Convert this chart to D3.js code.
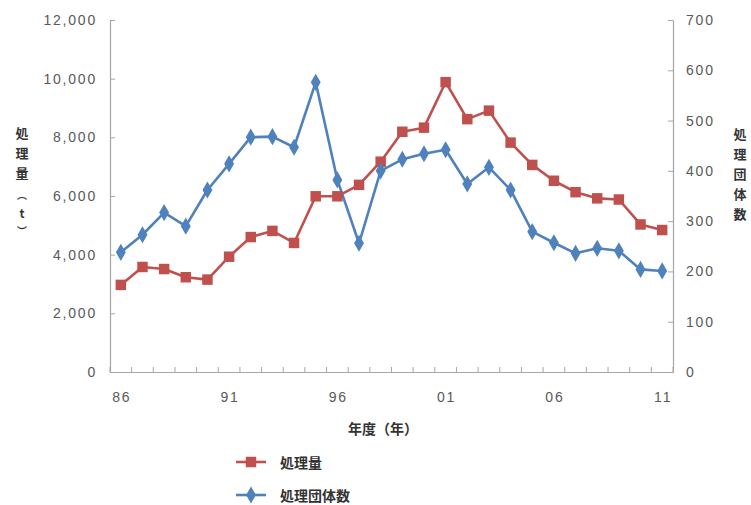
<!DOCTYPE html>
<html>
<head>
<meta charset="utf-8">
<script src="https://cdn.jsdelivr.net/npm/d3@7/dist/d3.min.js"></script>
<style>
  html, body { margin: 0; padding: 0; background: #fff; }
  svg { display: block; }
  .num { font-family: "Liberation Sans", Arial, sans-serif; font-size: 14px; letter-spacing: 1.8px; fill: #595959; }
  .jp { font-family: "Noto Sans CJK JP", sans-serif; font-weight: 700; font-size: 13px; fill: #333; }
</style>
</head>
<body>
<svg id="chart" width="751" height="505"></svg>
<script>
// Fiscal years (two-digit) on the category axis
const years = ["86","87","88","89","90","91","92","93","94","95","96","97","98","99","00","01","02","03","04","05","06","07","08","09","10","11"];
// Years whose labels appear under the axis
const labelYears = ["86","91","96","01","06","11"];
// 処理量 (t), left axis
const amount = [2970, 3580, 3510, 3230, 3150, 3930, 4600, 4810, 4400, 5990, 5990, 6380, 7170, 8190, 8330, 9880, 8620, 8910, 7820, 7060, 6520, 6130, 5920, 5880, 5030, 4840];
// 処理団体数, right axis
const groups = [238, 273, 317, 290, 362, 414, 467, 468, 447, 576, 382, 256, 400, 423, 434, 442, 374, 407, 362, 279, 257, 236, 246, 241, 204, 201];
const leftTicks = [0, 2000, 4000, 6000, 8000, 10000, 12000];
const rightTicks = [0, 100, 200, 300, 400, 500, 600, 700];

const red = "#c0504d", blue = "#4f81bd", axisColor = "#a6a6a6";
const svg = d3.select("#chart");

const plotL = 110, plotR = 673, plotT = 20, plotB = 372;

const x = d3.scaleBand().domain(years).range([plotL, plotR]);
const yL = d3.scaleLinear().domain([0, 12000]).range([plotB, plotT]);
const yR = d3.scaleLinear().domain([0, 700]).range([plotB, plotT]);
const cx = d => x(d) + x.bandwidth() / 2;

// Left axis
const gL = svg.append("g").attr("transform", `translate(${plotL},0)`)
  .call(d3.axisLeft(yL).tickValues(leftTicks).tickFormat(d3.format(",")).tickSizeInner(-5).tickSizeOuter(0).tickPadding(13));
// Right axis
const gR = svg.append("g").attr("transform", `translate(${plotR},0)`)
  .call(d3.axisRight(yR).tickValues(rightTicks).tickSizeInner(-5).tickSizeOuter(0).tickPadding(13));
// Bottom axis: tick marks on category boundaries, labels every five years
const gB = svg.append("g").attr("transform", `translate(0,${plotB})`)
  .call(d3.axisBottom(x).tickValues([]).tickSizeOuter(0));
gB.selectAll(".bound").data(years.concat(["end"])).join("line")
  .attr("class", "bound")
  .attr("x1", (d, i) => plotL + i * x.step()).attr("x2", (d, i) => plotL + i * x.step())
  .attr("y1", 0).attr("y2", -5).attr("stroke", axisColor);
gB.selectAll(".lbl").data(labelYears).join("text")
  .attr("class", "lbl num")
  .attr("x", d => cx(d) + 1).attr("y", 30)
  .attr("text-anchor", "middle")
  .text(d => d);

[gL, gR, gB].forEach(g => {
  g.selectAll("path.domain").attr("stroke", axisColor).attr("stroke-width", 1.2);
  g.selectAll(".tick line").attr("stroke", axisColor);
  g.selectAll(".tick text").attr("class", "num").attr("fill", null);
  g.attr("font-family", null).attr("font-size", null);
});

// Series lines
const lineL = d3.line().x((d, i) => cx(years[i])).y(d => yL(d));
const lineR = d3.line().x((d, i) => cx(years[i])).y(d => yR(d));

svg.append("path").datum(amount).attr("d", lineL)
  .attr("fill", "none").attr("stroke", red).attr("stroke-width", 2.6).attr("stroke-linejoin", "round");
svg.append("path").datum(groups).attr("d", lineR)
  .attr("fill", "none").attr("stroke", blue).attr("stroke-width", 2.6).attr("stroke-linejoin", "round");

const sq = d3.symbol().type(d3.symbolSquare).size(110);
const dia = d3.symbol().type(d3.symbolDiamond).size(85);

svg.append("g").selectAll("path").data(amount).join("path")
  .attr("d", sq).attr("fill", red)
  .attr("transform", (d, i) => `translate(${cx(years[i])},${yL(d)})`);
svg.append("g").selectAll("path").data(groups).join("path")
  .attr("d", dia).attr("fill", blue)
  .attr("transform", (d, i) => `translate(${cx(years[i])},${yR(d)})`);

// Axis titles, written vertically one character at a time
const vert = (chars, xPos, ys, sizes) => {
  chars.forEach((c, i) => {
    svg.append("text").attr("class", "jp")
      .style("font-size", sizes[i] + "px")
      .attr("x", xPos).attr("y", ys[i])
      .attr("text-anchor", "middle").attr("dominant-baseline", "central")
      .text(c);
  });
};
vert(["処", "理", "量", "︵", "t", "︶"], 22, [132, 152, 172, 194, 212, 230], [13, 13, 13, 10, 12, 10]);
vert(["処", "理", "団", "体", "数"], 740, [133, 153, 173, 193, 213], [13, 13, 13, 13, 13]);

svg.append("text").attr("class", "jp").style("font-size", "14px")
  .attr("x", 383).attr("y", 428).attr("text-anchor", "middle").attr("dominant-baseline", "central")
  .text("年度（年）");

// Legend
const legend = [
  { name: "処理量", color: red, sym: sq, y: 462 },
  { name: "処理団体数", color: blue, sym: dia, y: 495 }
];
legend.forEach(l => {
  svg.append("line").attr("x1", 236).attr("x2", 266).attr("y1", l.y).attr("y2", l.y)
    .attr("stroke", l.color).attr("stroke-width", 2.6);
  svg.append("path").attr("d", l.sym).attr("fill", l.color).attr("transform", `translate(251,${l.y})`);
  svg.append("text").attr("class", "jp").style("font-size", "14px")
    .attr("x", 280).attr("y", l.y).attr("dominant-baseline", "central").text(l.name);
});
</script>
</body>
</html>
